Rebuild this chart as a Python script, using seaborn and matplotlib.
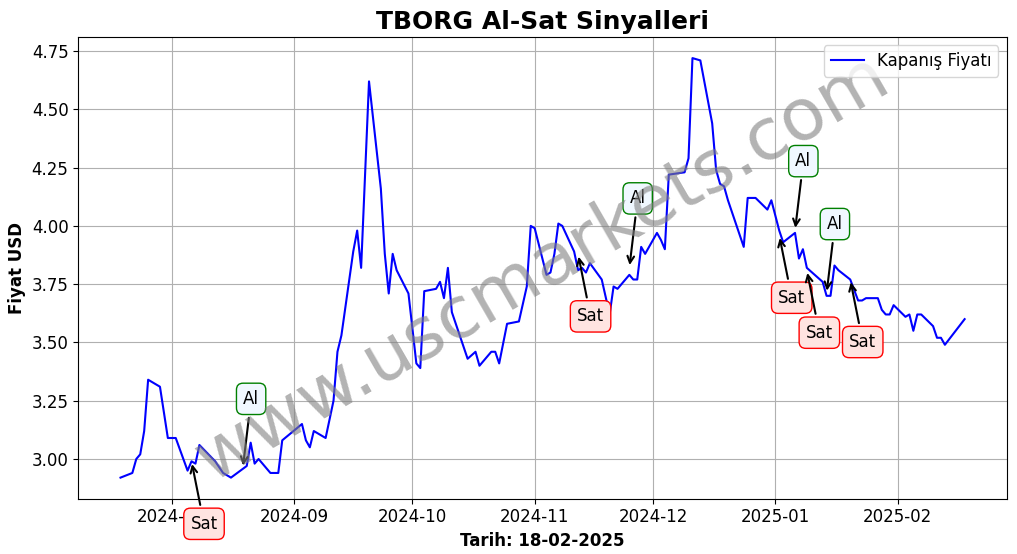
import matplotlib
matplotlib.use("Agg")
import matplotlib.pyplot as plt
import matplotlib.dates as mdates
import seaborn as sns
import pandas as pd

dates = [
    "2024-07-19", "2024-07-22", "2024-07-23", "2024-07-24", "2024-07-25", "2024-07-26",
    "2024-07-29", "2024-07-31", "2024-08-02", "2024-08-05", "2024-08-06", "2024-08-07",
    "2024-08-08", "2024-08-12", "2024-08-14", "2024-08-16", "2024-08-20", "2024-08-21",
    "2024-08-22", "2024-08-23", "2024-08-26", "2024-08-28", "2024-08-29", "2024-09-03",
    "2024-09-04", "2024-09-05", "2024-09-06", "2024-09-09", "2024-09-11", "2024-09-12",
    "2024-09-13", "2024-09-16", "2024-09-17", "2024-09-18", "2024-09-20", "2024-09-23",
    "2024-09-24", "2024-09-25", "2024-09-26", "2024-09-27", "2024-09-30", "2024-10-02",
    "2024-10-03", "2024-10-04", "2024-10-07", "2024-10-08", "2024-10-09", "2024-10-10",
    "2024-10-11", "2024-10-15", "2024-10-17", "2024-10-18", "2024-10-21", "2024-10-22",
    "2024-10-23", "2024-10-25", "2024-10-28", "2024-10-30", "2024-10-31", "2024-11-01",
    "2024-11-04", "2024-11-05", "2024-11-06", "2024-11-07", "2024-11-08", "2024-11-11",
    "2024-11-12", "2024-11-13", "2024-11-14", "2024-11-15", "2024-11-18", "2024-11-20",
    "2024-11-21", "2024-11-22", "2024-11-25", "2024-11-26", "2024-11-27", "2024-11-28",
    "2024-11-29", "2024-12-02", "2024-12-03", "2024-12-04", "2024-12-05", "2024-12-09",
    "2024-12-10", "2024-12-11", "2024-12-13", "2024-12-16", "2024-12-17", "2024-12-18",
    "2024-12-19", "2024-12-20", "2024-12-24", "2024-12-25", "2024-12-27", "2024-12-30",
    "2024-12-31", "2025-01-02", "2025-01-03", "2025-01-06", "2025-01-07", "2025-01-08",
    "2025-01-09", "2025-01-13", "2025-01-14", "2025-01-15", "2025-01-16", "2025-01-17",
    "2025-01-20", "2025-01-22", "2025-01-23", "2025-01-24", "2025-01-27", "2025-01-28",
    "2025-01-29", "2025-01-30", "2025-01-31", "2025-02-03", "2025-02-04", "2025-02-05",
    "2025-02-06", "2025-02-07", "2025-02-10", "2025-02-11", "2025-02-12", "2025-02-13",
    "2025-02-18",
]
prices = [
    2.92, 2.94, 3.00, 3.02, 3.12, 3.34,
    3.31, 3.09, 3.09, 2.95, 2.99, 2.98,
    3.06, 2.99, 2.94, 2.92, 2.97, 3.07,
    2.98, 3.00, 2.94, 2.94, 3.08, 3.15,
    3.08, 3.05, 3.12, 3.09, 3.25, 3.46,
    3.53, 3.89, 3.98, 3.82, 4.62, 4.16,
    3.88, 3.71, 3.88, 3.81, 3.71, 3.41,
    3.39, 3.72, 3.73, 3.76, 3.69, 3.82,
    3.63, 3.43, 3.46, 3.40, 3.46, 3.46,
    3.41, 3.58, 3.59, 3.74, 4.00, 3.99,
    3.79, 3.80, 3.88, 4.01, 4.00, 3.89,
    3.81, 3.82, 3.80, 3.84, 3.77, 3.62,
    3.74, 3.73, 3.79, 3.77, 3.77, 3.91,
    3.88, 3.97, 3.94, 3.90, 4.22, 4.23,
    4.29, 4.72, 4.71, 4.44, 4.24, 4.18,
    4.17, 4.11, 3.91, 4.12, 4.12, 4.07,
    4.11, 3.98, 3.93, 3.97, 3.86, 3.90,
    3.82, 3.76, 3.70, 3.70, 3.83, 3.81,
    3.77, 3.68, 3.68, 3.69, 3.69, 3.64,
    3.62, 3.62, 3.66, 3.61, 3.62, 3.55,
    3.62, 3.62, 3.57, 3.52, 3.52, 3.49,
    3.60,
]

# signals: date, price at arrow tip, kind
signal_dates = ["2024-08-06", "2024-08-19", "2024-11-12", "2024-11-25", "2025-01-02",
                "2025-01-06", "2025-01-09", "2025-01-14", "2025-01-20"]
signal_prices = [2.99, 2.96, 3.88, 3.82, 3.96, 3.98, 3.81, 3.71, 3.77]
signal_kinds = ["Sat", "Al", "Sat", "Al", "Sat", "Al", "Sat", "Al", "Sat"]

df = pd.DataFrame({"Tarih": pd.to_datetime(dates), "Fiyat": prices})

fig, ax = plt.subplots(figsize=(10.17, 5.54), dpi=100)
sns.lineplot(data=df, x="Tarih", y="Fiyat", color="blue", linewidth=1.5,
             label="Kapanış Fiyatı", ax=ax)

for d, p, k in zip(signal_dates, signal_prices, signal_kinds):
    if k == "Al":
        off, fc, ec = (6, 50), "aliceblue", "green"
    else:
        off, fc, ec = (9, -45), "mistyrose", "red"
    ax.annotate(k, xy=(pd.Timestamp(d), p), xytext=off, textcoords="offset points",
                ha="center", va="center", fontsize=12,
                bbox=dict(boxstyle="round,pad=0.4", fc=fc, ec=ec),
                arrowprops=dict(arrowstyle="->", color="black", lw=1.5))

ax.text(0.5, 0.5, "www.uscmarkets.com", transform=ax.transAxes, fontsize=52,
        color="gray", alpha=0.6, rotation=30, ha="center", va="center")

ax.set_title("TBORG Al-Sat Sinyalleri", fontsize=18, fontweight="bold")
ax.set_xlabel("Tarih: 18-02-2025", fontsize=12, fontweight="bold")
ax.set_ylabel("Fiyat USD", fontsize=12, fontweight="bold")
ax.xaxis.set_major_locator(mdates.MonthLocator())
ax.xaxis.set_major_formatter(mdates.DateFormatter("%Y-%m"))
ax.tick_params(labelsize=12)
ax.grid(True)
ax.legend(loc="upper right", fontsize=12)
fig.subplots_adjust(left=0.077, right=0.99, top=0.933, bottom=0.1)
fig.savefig("out.png")
